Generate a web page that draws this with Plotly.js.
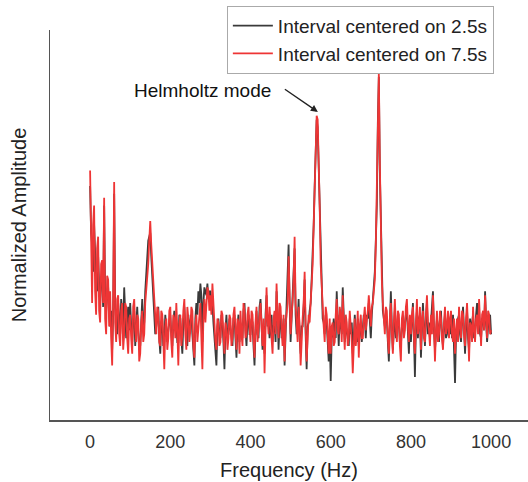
<!DOCTYPE html>
<html>
<head>
<meta charset="utf-8">
<script src="https://cdn.plot.ly/plotly-3.0.1.min.js"></script>
<style>html,body{margin:0;padding:0;background:#fff;}#chart{width:528px;height:482px;}</style>
</head>
<body>
<div id="chart"></div>
<script>
// Frequency grid: 0..1000 Hz, 2.5 Hz bins
var freqStart = 0, freqStep = 2.5, nBins = 401;

// Normalized amplitude, interval centered on 7.5 s (red)
var amp75 = [
0.64,0.42,0.30,0.50,0.55,0.33,0.27,0.44,0.47,0.28,0.25,0.40,0.41,0.30,0.57,0.26,0.22,0.37,0.36,0.24,
0.33,0.21,0.14,0.30,0.61,0.25,0.20,0.31,0.32,0.22,0.19,0.28,0.30,0.18,0.22,0.30,0.29,0.21,0.17,0.26,
0.27,0.21,0.17,0.29,0.31,0.23,0.20,0.27,0.26,0.15,0.17,0.25,0.28,0.20,0.22,0.30,0.33,0.36,0.40,0.46,
0.51,0.45,0.40,0.34,0.30,0.25,0.22,0.29,0.28,0.20,0.19,0.28,0.27,0.21,0.13,0.24,0.26,0.18,0.21,0.28,
0.29,0.20,0.16,0.27,0.26,0.21,0.30,0.23,0.14,0.25,0.27,0.19,0.22,0.28,0.31,0.22,0.18,0.29,0.26,0.20,
0.23,0.29,0.28,0.19,0.16,0.24,0.27,0.20,0.24,0.28,0.30,0.21,0.13,0.26,0.31,0.25,0.30,0.34,0.33,0.28,
0.32,0.27,0.35,0.30,0.24,0.20,0.18,0.26,0.25,0.19,0.20,0.28,0.27,0.22,0.17,0.25,0.24,0.18,0.21,0.27,
0.26,0.19,0.21,0.27,0.29,0.23,0.18,0.26,0.25,0.17,0.28,0.22,0.19,0.30,0.28,0.21,0.22,0.27,0.29,0.24,
0.20,0.28,0.27,0.21,0.16,0.25,0.29,0.20,0.23,0.27,0.30,0.24,0.19,0.26,0.12,0.23,0.34,0.26,0.22,0.29,
0.25,0.20,0.17,0.26,0.28,0.22,0.35,0.26,0.21,0.30,0.29,0.23,0.19,0.27,0.15,0.24,0.27,0.30,0.42,0.28,
0.22,0.27,0.30,0.36,0.47,0.30,0.24,0.20,0.29,0.24,0.14,0.22,0.26,0.30,0.38,0.24,0.15,0.21,0.27,0.25,
0.32,0.35,0.40,0.48,0.58,0.70,0.78,0.77,0.68,0.55,0.40,0.33,0.28,0.24,0.20,0.29,0.27,0.21,0.17,0.26,
0.17,0.24,0.25,0.19,0.20,0.27,0.31,0.23,0.22,0.29,0.27,0.20,0.32,0.24,0.18,0.27,0.25,0.19,0.21,0.28,
0.24,0.20,0.12,0.23,0.26,0.19,0.22,0.28,0.16,0.24,0.27,0.21,0.21,0.26,0.29,0.23,0.25,0.28,0.32,0.26,
0.24,0.29,0.30,0.33,0.36,0.45,0.57,0.78,0.89,0.66,0.47,0.36,0.30,0.25,0.22,0.29,0.28,0.21,0.17,0.26,
0.30,0.22,0.17,0.25,0.31,0.24,0.20,0.28,0.27,0.19,0.15,0.26,0.28,0.21,0.23,0.29,0.31,0.24,0.20,0.27,
0.22,0.27,0.29,0.21,0.17,0.25,0.31,0.22,0.24,0.29,0.18,0.26,0.28,0.21,0.20,0.27,0.32,0.25,0.23,0.19,
0.27,0.22,0.32,0.24,0.15,0.23,0.28,0.20,0.22,0.28,0.26,0.21,0.18,0.25,0.29,0.22,0.24,0.28,0.21,0.26,
0.28,0.22,0.20,0.26,0.17,0.23,0.26,0.20,0.29,0.24,0.21,0.28,0.27,0.22,0.19,0.26,0.30,0.23,0.15,0.25,
0.24,0.20,0.29,0.23,0.20,0.26,0.27,0.22,0.31,0.25,0.19,0.27,0.28,0.23,0.32,0.26,0.21,0.28,0.27,0.22,
0.23
];

// Normalized amplitude, interval centered on 2.5 s (black)
var amp25 = [
0.60,0.48,0.45,0.38,0.50,0.40,0.36,0.33,0.42,0.35,0.30,0.36,0.38,0.29,0.55,0.31,0.28,0.33,0.34,0.27,
0.24,0.28,0.18,0.27,0.58,0.29,0.26,0.22,0.30,0.25,0.22,0.31,0.27,0.24,0.34,0.27,0.21,0.26,0.29,0.23,
0.30,0.24,0.20,0.26,0.28,0.19,0.24,0.29,0.23,0.18,0.19,0.27,0.31,0.23,0.25,0.33,0.38,0.43,0.46,0.47,
0.48,0.42,0.37,0.31,0.28,0.22,0.24,0.27,0.29,0.21,0.17,0.25,0.26,0.19,0.20,0.27,0.24,0.20,0.23,0.26,
0.27,0.22,0.19,0.25,0.28,0.23,0.25,0.20,0.20,0.27,0.26,0.21,0.17,0.25,0.29,0.24,0.22,0.19,0.27,0.23,
0.25,0.27,0.22,0.18,0.14,0.26,0.30,0.27,0.33,0.30,0.35,0.32,0.20,0.30,0.34,0.33,0.32,0.35,0.31,0.33,
0.33,0.29,0.30,0.25,0.22,0.19,0.14,0.24,0.26,0.22,0.21,0.27,0.25,0.20,0.13,0.23,0.27,0.21,0.22,0.26,
0.24,0.22,0.19,0.26,0.27,0.21,0.16,0.24,0.27,0.20,0.25,0.23,0.21,0.28,0.30,0.23,0.19,0.25,0.27,0.22,
0.22,0.26,0.25,0.19,0.14,0.23,0.28,0.22,0.21,0.29,0.31,0.25,0.18,0.24,0.17,0.27,0.32,0.24,0.26,0.21,
0.23,0.27,0.20,0.24,0.25,0.20,0.33,0.28,0.18,0.25,0.27,0.21,0.22,0.26,0.14,0.22,0.30,0.36,0.45,0.30,
0.20,0.26,0.33,0.38,0.44,0.27,0.22,0.25,0.31,0.21,0.17,0.24,0.24,0.29,0.36,0.22,0.13,0.24,0.25,0.28,
0.30,0.36,0.42,0.50,0.60,0.71,0.77,0.75,0.66,0.53,0.43,0.33,0.26,0.25,0.22,0.27,0.25,0.20,0.15,0.22,
0.10,0.21,0.22,0.26,0.24,0.21,0.33,0.25,0.19,0.27,0.25,0.22,0.34,0.26,0.20,0.24,0.23,0.21,0.19,0.26,
0.22,0.25,0.17,0.21,0.27,0.22,0.20,0.26,0.19,0.23,0.25,0.20,0.23,0.27,0.26,0.21,0.27,0.26,0.30,0.25,
0.21,0.27,0.31,0.34,0.38,0.46,0.55,0.76,0.88,0.64,0.50,0.36,0.28,0.26,0.24,0.27,0.26,0.20,0.15,0.24,
0.33,0.24,0.18,0.23,0.28,0.21,0.22,0.27,0.25,0.20,0.19,0.24,0.26,0.22,0.25,0.27,0.28,0.21,0.17,0.25,
0.20,0.25,0.30,0.22,0.11,0.24,0.28,0.21,0.26,0.27,0.16,0.23,0.30,0.24,0.19,0.26,0.30,0.22,0.25,0.21,
0.25,0.27,0.33,0.23,0.18,0.22,0.26,0.24,0.20,0.26,0.28,0.22,0.19,0.24,0.27,0.21,0.22,0.27,0.24,0.22,
0.26,0.21,0.27,0.19,0.095,0.22,0.23,0.26,0.27,0.22,0.20,0.25,0.29,0.23,0.17,0.24,0.28,0.21,0.18,0.26,
0.22,0.25,0.27,0.21,0.22,0.27,0.30,0.24,0.28,0.22,0.21,0.26,0.26,0.23,0.33,0.25,0.20,0.24,0.25,0.27,
0.22
];

var seriesNames = ['Interval centered on 2.5s', 'Interval centered on 7.5s'];
var xTickVals = [0, 200, 400, 600, 800, 1000];
var xTickText = ['0', '200', '400', '600', '800', '1000'];

var freq = [];
for (var i = 0; i < nBins; i++) freq.push(freqStart + i * freqStep);

var font = 'Liberation Sans, Arial, sans-serif';

var traces = [
  {x: freq, y: amp25, type: 'scatter', mode: 'lines', name: seriesNames[0],
   line: {color: '#3a3a3a', width: 1.8}},
  {x: freq, y: amp75, type: 'scatter', mode: 'lines', name: seriesNames[1],
   line: {color: '#ee3535', width: 1.8}}
];

var layout = {
  width: 528, height: 482,
  margin: {l: 50, r: 0, t: 30, b: 62},
  paper_bgcolor: '#fff', plot_bgcolor: '#fff',
  font: {family: font, color: '#222'},
  showlegend: true,
  legend: {x: 0.37, y: 1.062, xanchor: 'left', yanchor: 'top',
    bgcolor: '#fff', bordercolor: '#aaa', borderwidth: 1,
    font: {family: font, size: 19, color: '#222'}, itemwidth: 40,
    tracegroupgap: 0},
  xaxis: {range: [-100, 1092], showgrid: false, zeroline: false,
    showline: true, linecolor: '#555', linewidth: 1.5,
    ticks: '', tickmode: 'array', tickvals: xTickVals, ticktext: xTickText,
    ticklabelstandoff: 5,
    tickfont: {family: font, size: 18, color: '#333'},
    title: {text: 'Frequency (Hz)', font: {family: font, size: 20, color: '#222'}, standoff: 12}},
  yaxis: {range: [0, 1], showgrid: false, zeroline: false,
    showline: true, linecolor: '#555', linewidth: 1.5,
    ticks: '', showticklabels: false,
    title: {text: 'Normalized Amplitude', font: {family: font, size: 20, color: '#222'}, standoff: 16}},
  annotations: [
    {x: 281, y: 0.846, xref: 'x', yref: 'y', text: 'Helmholtz mode', showarrow: false,
     font: {family: font, size: 19, color: '#111'}},
    {x: 568, y: 0.79, xref: 'x', yref: 'y', text: ' ', showarrow: true,
     ax: -35, ay: -24, arrowhead: 2, arrowsize: 1, arrowwidth: 1.4, arrowcolor: '#222',
     font: {size: 4}}
  ]
};

Plotly.newPlot('chart', traces, layout, {displayModeBar: false, staticPlot: true});
</script>
</body>
</html>
